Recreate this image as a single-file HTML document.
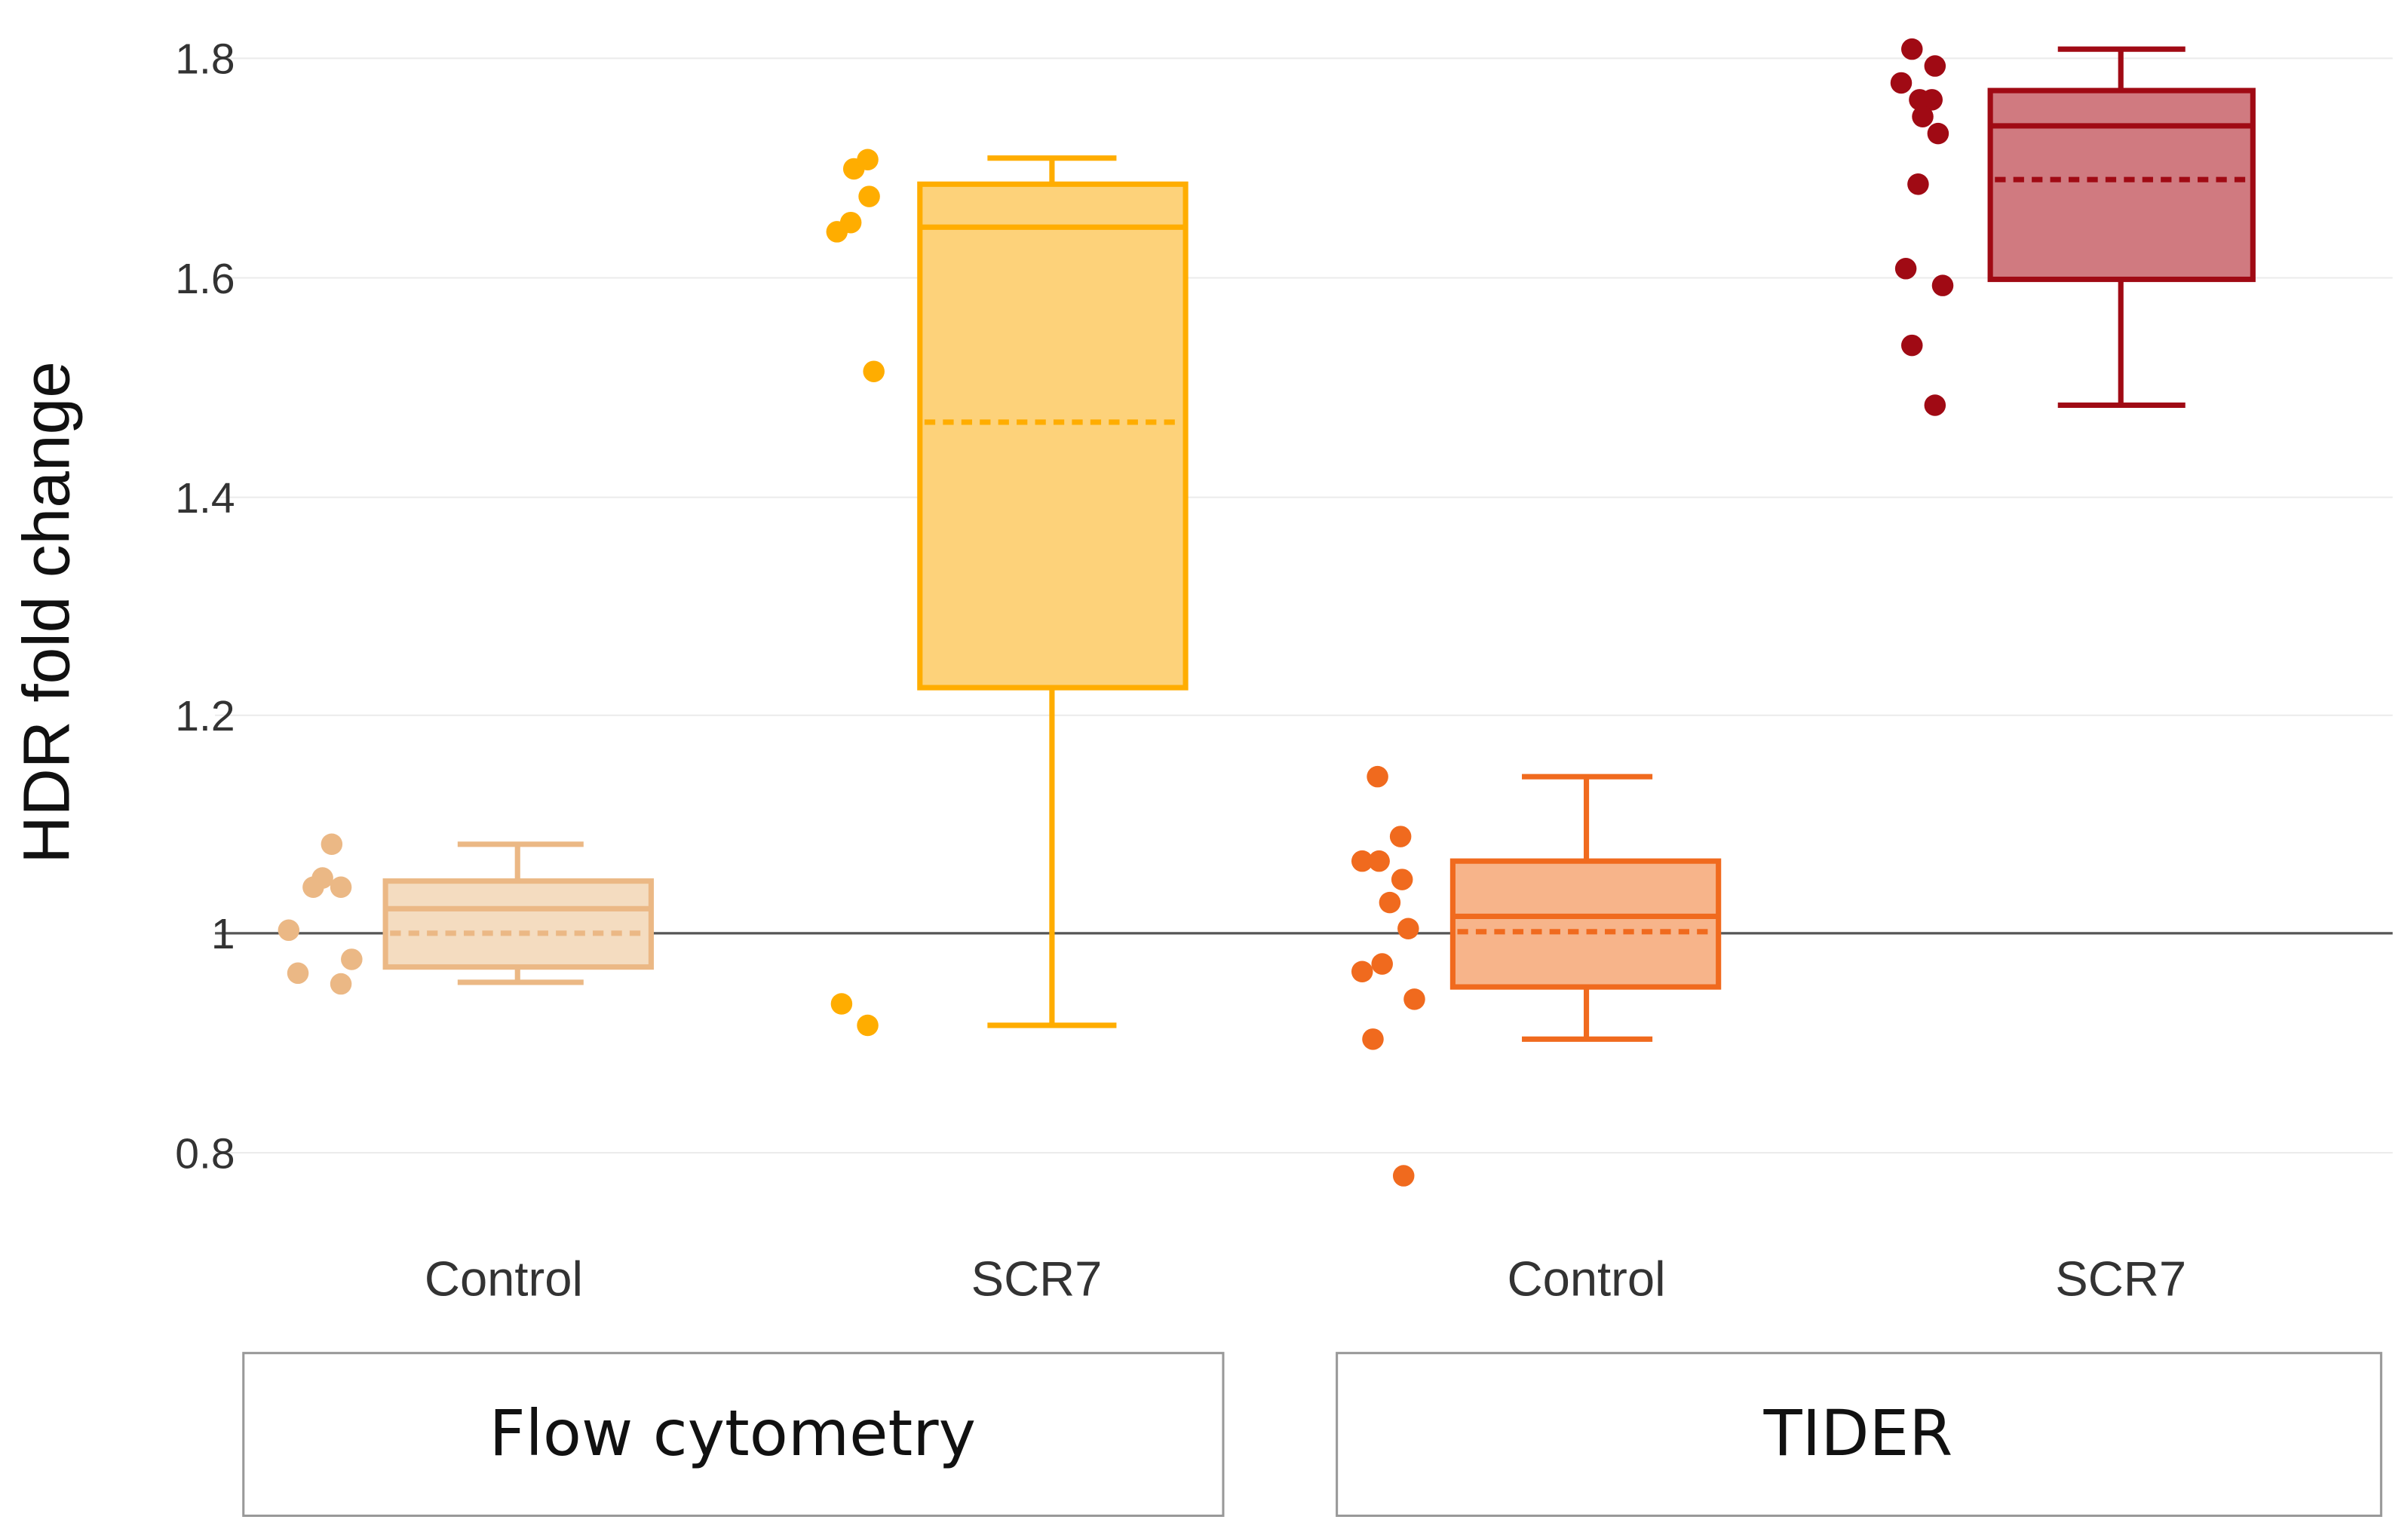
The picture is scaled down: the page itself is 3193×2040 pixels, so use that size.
<!DOCTYPE html>
<html><head><meta charset="utf-8"><style>
html,body{margin:0;padding:0;background:#fff;}
svg{display:block;}
text{font-family:"Liberation Sans",sans-serif;}
</style></head><body>
<svg width="3193" height="2040" viewBox="0 0 1568 1002" preserveAspectRatio="none" xmlns="http://www.w3.org/2000/svg">
<rect width="1568" height="1002" fill="#fff"/>
<g stroke="#ebebeb" stroke-width="1">
<line x1="140" y1="38" x2="1558" y2="38"/>
<line x1="140" y1="181" x2="1558" y2="181"/>
<line x1="140" y1="324" x2="1558" y2="324"/>
<line x1="140" y1="466" x2="1558" y2="466"/>
<line x1="140" y1="751" x2="1558" y2="751"/>
</g>
<line x1="140" y1="608" x2="1558" y2="608" stroke="#555" stroke-width="1.6"/>
<g font-size="28" fill="#333" text-anchor="end">
<text x="153" y="48">1.8</text>
<text x="153" y="191">1.6</text>
<text x="153" y="334">1.4</text>
<text x="153" y="476">1.2</text>
<text x="153" y="618">1</text>
<text x="153" y="761">0.8</text>
</g>
<text transform="translate(45,399) rotate(-90)" font-size="43" fill="#111" text-anchor="middle">HDR fold change</text>

<!-- Flow Control -->
<g stroke="#ebb885" stroke-width="3.5" fill="none">
<line x1="337" y1="550" x2="337" y2="574"/><line x1="298" y1="550" x2="380" y2="550"/>
<line x1="337" y1="630" x2="337" y2="640"/><line x1="298" y1="640" x2="380" y2="640"/>
<rect x="251" y="574" width="173" height="56" fill="#f4dcc0"/>
<line x1="251" y1="592" x2="424" y2="592"/>
<line x1="254" y1="608" x2="421" y2="608" stroke-dasharray="7,5"/>
</g>
<g fill="#ebb885">
<circle cx="188" cy="606" r="7"/><circle cx="194" cy="634" r="7"/><circle cx="204" cy="578" r="7"/><circle cx="210" cy="572" r="7"/><circle cx="216" cy="550" r="7"/><circle cx="222" cy="578" r="7"/><circle cx="222" cy="641" r="7"/><circle cx="229" cy="625" r="7"/>
</g>

<!-- Flow SCR7 -->
<g stroke="#ffad00" stroke-width="3.5" fill="none">
<line x1="685" y1="103" x2="685" y2="120"/><line x1="643" y1="103" x2="727" y2="103"/>
<line x1="685" y1="448" x2="685" y2="668"/><line x1="643" y1="668" x2="727" y2="668"/>
<rect x="599" y="120" width="173" height="328" fill="#fdd27a"/>
<line x1="599" y1="148" x2="772" y2="148"/>
<line x1="602" y1="275" x2="769" y2="275" stroke-dasharray="7,5"/>
</g>
<g fill="#ffad00">
<circle cx="556" cy="110" r="7"/><circle cx="565" cy="104" r="7"/><circle cx="545" cy="151" r="7"/><circle cx="554" cy="145" r="7"/><circle cx="566" cy="128" r="7"/><circle cx="569" cy="242" r="7"/><circle cx="548" cy="654" r="7"/><circle cx="565" cy="668" r="7"/>
</g>

<!-- TIDER Control -->
<g stroke="#f06a1e" stroke-width="3.5" fill="none">
<line x1="1033" y1="506" x2="1033" y2="561"/><line x1="991" y1="506" x2="1076" y2="506"/>
<line x1="1033" y1="643" x2="1033" y2="677"/><line x1="991" y1="677" x2="1076" y2="677"/>
<rect x="946" y="561" width="173" height="82" fill="#f7b48a"/>
<line x1="946" y1="597" x2="1119" y2="597"/>
<line x1="949" y1="607" x2="1116" y2="607" stroke-dasharray="7,5"/>
</g>
<g fill="#f06a1e">
<circle cx="897" cy="506" r="7"/><circle cx="887" cy="561" r="7"/><circle cx="898" cy="561" r="7"/><circle cx="912" cy="545" r="7"/><circle cx="905" cy="588" r="7"/><circle cx="913" cy="573" r="7"/><circle cx="917" cy="605" r="7"/><circle cx="887" cy="633" r="7"/><circle cx="900" cy="628" r="7"/><circle cx="921" cy="651" r="7"/><circle cx="894" cy="677" r="7"/><circle cx="914" cy="766" r="7"/>
</g>

<!-- TIDER SCR7 -->
<g stroke="#a00a14" stroke-width="3.5" fill="none">
<line x1="1381" y1="32" x2="1381" y2="59"/><line x1="1340" y1="32" x2="1423" y2="32"/>
<line x1="1381" y1="182" x2="1381" y2="264"/><line x1="1340" y1="264" x2="1423" y2="264"/>
<rect x="1296" y="59" width="171" height="123" fill="#d07a80"/>
<line x1="1296" y1="82" x2="1467" y2="82"/>
<line x1="1299" y1="117" x2="1464" y2="117" stroke-dasharray="7,5"/>
</g>
<g fill="#a00a14">
<circle cx="1245" cy="32" r="7"/><circle cx="1260" cy="43" r="7"/><circle cx="1238" cy="54" r="7"/><circle cx="1250" cy="65" r="7"/><circle cx="1258" cy="65" r="7"/><circle cx="1252" cy="76" r="7"/><circle cx="1262" cy="87" r="7"/><circle cx="1249" cy="120" r="7"/><circle cx="1241" cy="175" r="7"/><circle cx="1265" cy="186" r="7"/><circle cx="1245" cy="225" r="7"/><circle cx="1260" cy="264" r="7"/>
</g>

<g font-size="32" fill="#333" text-anchor="middle">
<text x="328" y="844">Control</text>
<text x="675" y="844">SCR7</text>
<text x="1033" y="844">Control</text>
<text x="1381" y="844">SCR7</text>
</g>
<rect x="158.5" y="881.5" width="638" height="106" fill="#fff" stroke="#999" stroke-width="1.5"/>
<rect x="870.5" y="881.5" width="680" height="106" fill="#fff" stroke="#999" stroke-width="1.5"/>
<g font-size="41" fill="#111" text-anchor="middle">
<text x="477" y="948" style="font-family:'DejaVu Sans',sans-serif">Flow cytometry</text>
<text x="1210" y="948" style="font-family:'DejaVu Sans',sans-serif">TIDER</text>
</g>
</svg>
</body></html>
